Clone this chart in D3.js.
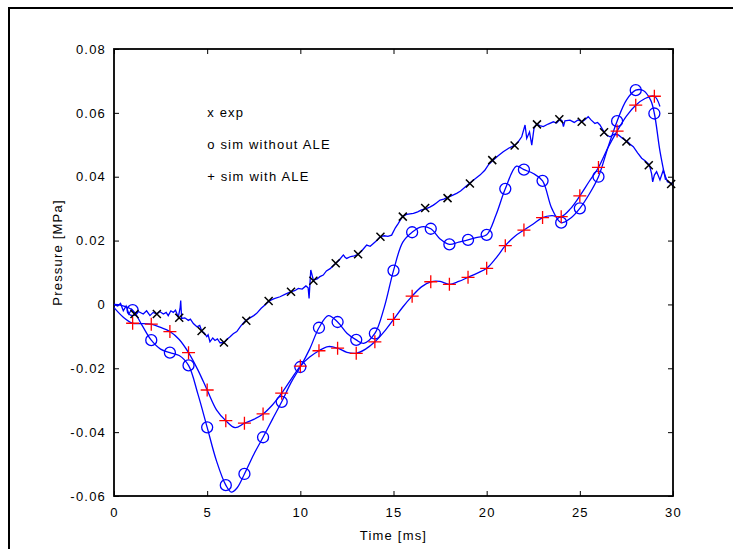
<!DOCTYPE html>
<html>
<head>
<meta charset="utf-8">
<script src="https://cdn.jsdelivr.net/npm/d3@7"></script>
<style>
  html, body { margin: 0; padding: 0; background: #fff; }
  svg text { font-family: "Liberation Sans", Arial, sans-serif; font-size: 13px; letter-spacing: 1.2px; fill: #000; }
</style>
</head>
<body>
<svg id="chart" width="733" height="549"></svg>
<script>
// axes
const xTicks = [0, 5, 10, 15, 20, 25, 30];
const yTicks = [-0.06, -0.04, -0.02, 0, 0.02, 0.04, 0.06, 0.08];

// experiment (noisy trace)
const expTime = [0, 0.2, 0.35, 0.5, 0.65, 0.8, 0.95, 1.1, 1.3, 1.57, 1.75, 1.93, 2.1, 2.29, 2.45, 2.65, 2.8, 2.91, 3.05, 3.18, 3.3, 3.45, 3.55, 3.58, 3.63, 3.8, 3.99, 4.1, 4.26, 4.45, 4.6, 4.71, 4.85, 4.98, 5.05, 5.15, 5.3, 5.42, 5.55, 5.69, 5.9, 6.05, 6.23, 6.4, 6.59, 6.8, 7.05, 7.3, 7.5, 7.66, 7.9, 8.1, 8.33, 8.6, 8.91, 9.2, 9.5, 9.7, 9.89, 10.1, 10.3, 10.42, 10.47, 10.56, 10.7, 10.9, 11.05, 11.23, 11.4, 11.6, 11.9, 12.1, 12.31, 12.4, 12.49, 12.7, 12.9, 13.11, 13.3, 13.56, 13.75, 13.92, 14.1, 14.28, 14.5, 14.7, 14.9, 15.1, 15.26, 15.47, 15.7, 16.07, 16.3, 16.5, 16.73, 16.95, 17.14, 17.3, 17.5, 17.7, 17.89, 18.1, 18.39, 18.6, 18.85, 19.07, 19.35, 19.64, 19.9, 20.1, 20.36, 20.6, 20.89, 21.2, 21.52, 21.7, 21.88, 22.06, 22.15, 22.3, 22.42, 22.54, 22.68, 22.85, 23.04, 23.3, 23.58, 23.75, 23.94, 24.05, 24.12, 24.2, 24.47, 24.7, 24.9, 25.13, 25.3, 25.45, 25.6, 25.81, 25.95, 26.08, 26.31, 26.45, 26.62, 26.85, 27.07, 27.3, 27.55, 27.7, 27.87, 28.1, 28.32, 28.5, 28.73, 28.85, 28.91, 29.0, 29.12, 29.3, 29.48, 29.6, 29.7, 29.93, 30];
const expPressure = [0, -0.0005, 0.0003, -0.002, -0.0005, -0.003, -0.0015, -0.003, -0.0022, -0.003, -0.002, -0.0035, -0.0025, -0.003, -0.0022, -0.003, -0.0025, -0.0035, -0.002, -0.0025, -0.0018, -0.004, -0.001, 0.0012, -0.0044, -0.0042, -0.005, -0.0046, -0.006, -0.007, -0.0066, -0.0083, -0.009, -0.0101, -0.0095, -0.0117, -0.0105, -0.0113, -0.0108, -0.012, -0.012, -0.011, -0.0101, -0.0092, -0.0085, -0.0068, -0.0051, -0.0042, -0.0035, -0.0028, -0.0012, -0.0002, 0.0011, 0.0018, 0.0024, 0.0032, 0.004, 0.0043, 0.005, 0.0048, 0.0058, 0.0052, 0.0019, 0.0108, 0.0076, 0.008, 0.0087, 0.0092, 0.0105, 0.0112, 0.0129, 0.014, 0.0155, 0.0148, 0.0144, 0.015, 0.0152, 0.0157, 0.0168, 0.0186, 0.0182, 0.0191, 0.02, 0.0212, 0.0215, 0.0213, 0.0217, 0.024, 0.0254, 0.0275, 0.0282, 0.0285, 0.029, 0.0296, 0.0299, 0.0305, 0.0311, 0.0318, 0.0327, 0.033, 0.0335, 0.034, 0.0348, 0.0355, 0.0368, 0.0379, 0.0392, 0.0405, 0.042, 0.0438, 0.0452, 0.0465, 0.0478, 0.049, 0.0499, 0.051, 0.0525, 0.0562, 0.052, 0.054, 0.0499, 0.0551, 0.0565, 0.056, 0.0557, 0.0565, 0.0572, 0.0568, 0.058, 0.0575, 0.0557, 0.0575, 0.0577, 0.057, 0.0578, 0.0572, 0.058, 0.0588, 0.0578, 0.0567, 0.057, 0.0562, 0.0539, 0.053, 0.0525, 0.0533, 0.0531, 0.052, 0.051, 0.0502, 0.0494, 0.0475, 0.0458, 0.045, 0.0437, 0.041, 0.0384, 0.0405, 0.0416, 0.039, 0.0421, 0.04, 0.0384, 0.0379, 0.0375];
const expMarkTime = [1.1, 2.3, 3.5, 4.7, 5.9, 7.1, 8.3, 9.5, 10.7, 11.9, 13.1, 14.3, 15.5, 16.7, 17.9, 19.1, 20.3, 21.5, 22.7, 23.9, 25.1, 26.3, 27.5, 28.7, 29.9];
const expMarkPressure = [-0.003, -0.003, -0.0042, -0.0083, -0.0119, -0.0051, 0.0011, 0.004, 0.0074, 0.0129, 0.0157, 0.0212, 0.0275, 0.0302, 0.0333, 0.0379, 0.0452, 0.0498, 0.0564, 0.058, 0.0572, 0.0539, 0.051, 0.0436, 0.0377];

// simulation without ALE
const noAleTime = [0, 0.4, 1, 1.5, 2, 2.5, 3, 3.5, 4, 4.5, 5, 5.5, 6, 6.3, 6.6, 7, 7.5, 8, 8.5, 9, 9.5, 10, 10.5, 11, 11.5, 12, 12.5, 13, 13.4, 14, 14.5, 15, 15.5, 16, 16.5, 17, 17.5, 18, 18.5, 19, 19.5, 20, 20.5, 21, 21.6, 22, 22.5, 23, 23.5, 24, 24.5, 25, 25.5, 26, 26.5, 27, 27.5, 28, 28.4, 28.8, 29, 29.3, 29.6];
const noAlePressure = [0, -0.0003, -0.0018, -0.0065, -0.0112, -0.014, -0.0151, -0.016, -0.0191, -0.028, -0.0385, -0.049, -0.0566, -0.0588, -0.0575, -0.0531, -0.047, -0.0416, -0.036, -0.0305, -0.0245, -0.0196, -0.014, -0.0073, -0.0035, -0.0055, -0.009, -0.0111, -0.0122, -0.0091, -0.001, 0.0106, 0.0195, 0.0226, 0.0243, 0.0237, 0.0205, 0.0188, 0.0195, 0.0202, 0.021, 0.0218, 0.028, 0.0362, 0.0433, 0.0422, 0.041, 0.0387, 0.03, 0.0256, 0.027, 0.0301, 0.0345, 0.04, 0.049, 0.0574, 0.064, 0.0671, 0.067, 0.064, 0.0598, 0.048, 0.039];

// simulation with ALE
const aleTime = [0, 0.5, 1, 1.5, 2, 2.5, 3, 3.5, 4, 4.5, 5, 5.5, 6, 6.5, 7, 7.5, 8, 8.5, 9, 9.5, 10, 10.5, 11, 11.5, 12, 12.5, 13, 13.5, 14, 14.5, 15, 15.5, 16, 16.5, 17, 17.5, 18, 18.5, 19, 19.5, 20, 20.5, 21, 21.5, 22, 22.5, 23, 23.5, 24, 24.5, 25, 25.5, 26, 26.5, 27, 27.5, 28, 28.5, 29, 29.3];
const alePressure = [-0.001, -0.004, -0.0059, -0.006, -0.0062, -0.0072, -0.0085, -0.011, -0.0151, -0.0205, -0.0268, -0.033, -0.0364, -0.0386, -0.0372, -0.036, -0.0343, -0.0315, -0.0278, -0.0235, -0.0193, -0.0165, -0.0145, -0.0132, -0.0137, -0.015, -0.0153, -0.014, -0.0117, -0.0085, -0.0047, -0.0008, 0.0026, 0.0055, 0.0071, 0.0072, 0.0063, 0.0072, 0.0085, 0.0098, 0.0113, 0.0145, 0.0184, 0.0213, 0.0233, 0.0252, 0.0272, 0.0278, 0.0275, 0.03, 0.034, 0.0385, 0.0429, 0.049, 0.0543, 0.059, 0.0624, 0.0645, 0.0652, 0.062];

const labels = ["x exp", "o sim without ALE", "+ sim with ALE"];
const labelPressure = [0.06, 0.05, 0.04];

const svg = d3.select("#chart");
const margin = { left: 114, right: 60, top: 49, bottom: 53 };
const width = 733 - margin.left - margin.right;
const height = 549 - margin.top - margin.bottom;

// outer figure frame
svg.append("rect")
  .attr("x", 9).attr("y", 8)
  .attr("width", 900).attr("height", 900)
  .attr("fill", "none").attr("stroke", "#000").attr("stroke-width", 2);

const x = d3.scaleLinear().domain([0, 30]).range([0, width]);
const y = d3.scaleLinear().domain([-0.06, 0.08]).range([height, 0]);

const g = svg.append("g").attr("transform", `translate(${margin.left},${margin.top})`);

const fmtY = (d) => (d === 0 ? "0" : d3.format(".2f")(d).replace("−", "-"));

// axes with inward ticks
g.append("g").attr("transform", `translate(0,${height})`)
  .call(d3.axisBottom(x).tickValues(xTicks).tickSizeInner(-5).tickSizeOuter(0).tickPadding(12))
  .call((a) => a.select(".domain").remove());
g.append("g")
  .call(d3.axisTop(x).tickValues(xTicks).tickSizeInner(-5).tickSizeOuter(0).tickFormat(""))
  .call((a) => a.select(".domain").remove());
g.append("g")
  .call(d3.axisLeft(y).tickValues(yTicks).tickSizeInner(-5).tickSizeOuter(0).tickPadding(8).tickFormat(fmtY))
  .call((a) => a.select(".domain").remove());
g.append("g").attr("transform", `translate(${width},0)`)
  .call(d3.axisRight(y).tickValues(yTicks).tickSizeInner(-5).tickSizeOuter(0).tickFormat(""))
  .call((a) => a.select(".domain").remove());

g.selectAll(".tick text").attr("font-family", null).attr("font-size", null);
g.selectAll(".tick line").attr("stroke", "#000").attr("stroke-width", 1);

g.append("rect")
  .attr("width", width).attr("height", height)
  .attr("fill", "none").attr("stroke", "#000").attr("stroke-width", 1.8);

// lines
const toPoints = (ts, vs) => ts.map((t, i) => ({ t, v: vs[i] }));
const expData = toPoints(expTime, expPressure);
const noAleData = toPoints(noAleTime, noAlePressure);
const aleData = toPoints(aleTime, alePressure);

const rough = d3.line().x((d) => x(d.t)).y((d) => y(d.v));
const smooth = d3.line().x((d) => x(d.t)).y((d) => y(d.v)).curve(d3.curveCatmullRom.alpha(0.5));

const clip = g.append("clipPath").attr("id", "clip")
  .append("rect").attr("width", width).attr("height", height);
const plot = g.append("g").attr("clip-path", "url(#clip)");

[[expData, rough], [noAleData, smooth], [aleData, smooth]].forEach(([data, gen]) => {
  plot.append("path")
    .datum(data)
    .attr("d", gen)
    .attr("fill", "none")
    .attr("stroke", "#0000ff")
    .attr("stroke-width", 1.3);
});

// markers: sims at whole milliseconds
const wholeMs = (d) => Number.isInteger(d.t) && d.t >= 1 && d.t <= 29;

g.append("g").selectAll("circle")
  .data(noAleData.filter(wholeMs))
  .join("circle")
  .attr("cx", (d) => x(d.t)).attr("cy", (d) => y(d.v))
  .attr("r", 5.5)
  .attr("fill", "none").attr("stroke", "#0000ff").attr("stroke-width", 1.3);

g.append("g").selectAll("path")
  .data(aleData.filter(wholeMs))
  .join("path")
  .attr("d", (d) => `M${x(d.t) - 6.5},${y(d.v)}h13M${x(d.t)},${y(d.v) - 6.5}v13`)
  .attr("stroke", "#ff0000").attr("stroke-width", 1.3);

g.append("g").selectAll("path")
  .data(expMarkTime.map((t, i) => ({ t, v: expMarkPressure[i] })))
  .join("path")
  .attr("d", (d) => `M${x(d.t) - 4},${y(d.v) - 4}l8,8M${x(d.t) - 4},${y(d.v) + 4}l8,-8`)
  .attr("stroke", "#000").attr("stroke-width", 1.5);

// in-plot legend text
g.append("g").selectAll("text")
  .data(labels)
  .join("text")
  .attr("x", x(5))
  .attr("y", (d, i) => y(labelPressure[i]))
  .attr("dy", "0.35em")
  .text((d) => d);

// axis titles
svg.append("text")
  .attr("x", margin.left + width / 2).attr("y", 540)
  .attr("text-anchor", "middle")
  .text("Time [ms]");
svg.append("text")
  .attr("transform", `translate(62,${margin.top + height / 2 - 20}) rotate(-90)`)
  .attr("text-anchor", "middle")
  .text("Pressure [MPa]");
</script>
</body>
</html>
